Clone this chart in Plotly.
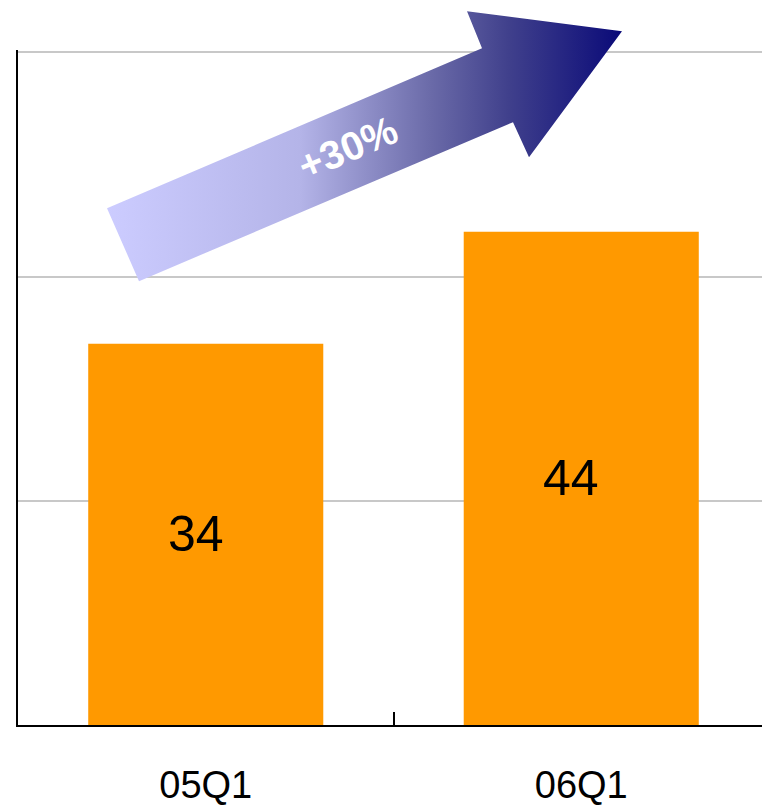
import base64
import plotly.graph_objects as go

# ---- data ----
categories = ["05Q1", "06Q1"]
values = [34, 44]
bar_labels = ["34", "44"]
growth_label = "+30%"
y_grid_ticks = [0, 20, 40, 60]

# ---- layout geometry ----
W, H = 762, 805
Y_TOP = 60.2
BASE_Y = 725          # pixel row of the x axis
PX_PER_UNIT = (725 - 52) / 60.0
PH = Y_TOP * PX_PER_UNIT
ML, MR, MB = 18, 0, H - BASE_Y
MT = H - MB - PH
PW = W - ML - MR
CAT_PX = 375.5  # pixel width of one category slot

# decorative gradient arrow (figure pixel coordinates)
arrow_pts = [(107, 208), (482, 48), (467, 11), (622, 31), (529, 157), (513, 122), (139, 281)]
pts = " ".join(f"{x},{y}" for x, y in arrow_pts)
svg = (
    f'<svg xmlns="http://www.w3.org/2000/svg" width="{W}" height="{H}" viewBox="0 0 {W} {H}">'
    '<defs><linearGradient id="g" gradientUnits="userSpaceOnUse" x1="107" y1="0" x2="622" y2="0">'
    '<stop offset="0" stop-color="#ccccff"/>'
    '<stop offset="0.375" stop-color="#b4b4e8"/>'
    '<stop offset="0.63" stop-color="#6a6aa8"/>'
    '<stop offset="0.78" stop-color="#40408c"/>'
    '<stop offset="1" stop-color="#0a0a78"/>'
    '</linearGradient></defs>'
    f'<polygon points="{pts}" fill="url(#g)"/></svg>'
)
src = "data:image/svg+xml;base64," + base64.b64encode(svg.encode()).decode()

FONT = "Liberation Sans, Arial, sans-serif"

fig = go.Figure()
fig.add_trace(go.Bar(
    x=categories, y=values,
    marker=dict(color="#ff9900", line=dict(width=0)),
    width=0.626, hoverinfo="skip",
))

label_annotations = [
    dict(text=t, x=c, y=v / 2, xref="x", yref="y", showarrow=False,
         xshift=-10, font=dict(size=50, color="black", family=FONT),
         xanchor="center", yanchor="middle")
    for c, v, t in zip(categories, values, bar_labels)
]

fig.update_layout(
    template="none",
    width=W, height=H,
    margin=dict(l=ML, r=MR, t=MT, b=MB, pad=0, autoexpand=False),
    paper_bgcolor="white", plot_bgcolor="white",
    showlegend=False,
    images=[dict(
        source=src, xref="paper", yref="paper",
        x=-ML / PW, y=1 + MT / PH, sizex=W / PW, sizey=H / PH,
        xanchor="left", yanchor="top", sizing="stretch", layer="above",
    )],
    annotations=label_annotations + [dict(
        text=f"<b>{growth_label}</b>", xref="paper", yref="paper",
        x=(347 - ML) / PW, y=(BASE_Y - 148) / PH, showarrow=False,
        textangle=-23, font=dict(size=40, color="white", family=FONT),
        xanchor="center", yanchor="middle",
    )],
)

fig.update_xaxes(
    type="category", range=[-0.5, -0.5 + PW / CAT_PX], automargin=False,
    tickson="boundaries", ticks="inside", ticklen=13, tickwidth=2, tickcolor="black",
    showline=True, linecolor="black", linewidth=2, showgrid=False, zeroline=False,
    tickfont=dict(size=38, color="black", family=FONT), ticklabelstandoff=25,
)
fig.update_yaxes(
    range=[0, Y_TOP], tickvals=y_grid_ticks, showticklabels=False, ticks="",
    automargin=False,
    showgrid=True, gridcolor="#c8c8c8", gridwidth=2,
    showline=True, linecolor="black", linewidth=2, zeroline=False,
)

fig.write_html("out.html")
